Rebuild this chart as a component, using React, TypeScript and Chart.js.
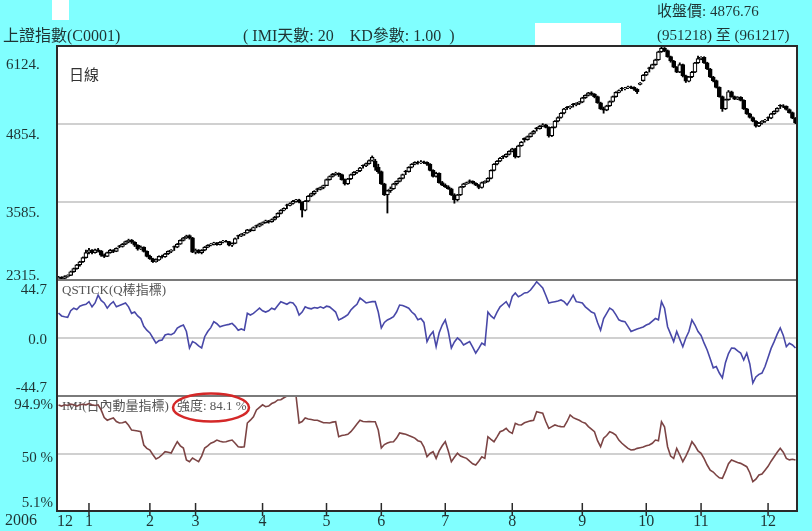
import { useEffect, useRef } from "react";
import { Chart, registerables } from "chart.js";

Chart.register(...registerables);

// ---------- price candles (上證指數, daily) ----------
const opens = [
  2330,2360,2340,2372,2390,2450,2500,2560,2610,2680,
  2770,2800,2760,2805,2790,2720,2700,2760,2800,2780,
  2870,2860,2900,2940,2965,2930,2880,2820,2850,2780,
  2700,2660,2612,2640,2700,2690,2740,2780,2860,2850,
  2900,2960,3000,3040,3000,2770,2800,2760,2800,2850,
  2880,2900,2920,2890,2930,2950,2940,2880,2910,3040,
  3030,3060,3080,3130,3120,3200,3190,3230,3250,3280,
  3260,3300,3340,3400,3450,3540,3530,3560,3600,3620,
  3580,3450,3600,3680,3720,3800,3790,3820,3850,3950,
  4000,4040,4050,4030,3950,3880,3960,4030,4070,4090,
  4180,4170,4210,4260,4250,4150,4080,3880,3700,3770,
  3800,3880,3920,3970,4090,4080,4150,4200,4230,4220,
  4240,4230,4200,4100,4000,4050,3900,3860,3830,3800,
  3700,3620,3700,3830,3880,3930,3920,3890,3860,3820,
  3900,3920,3970,4100,4200,4250,4330,4320,4360,4410,
  4450,4320,4500,4620,4600,4650,4700,4790,4780,4820,
  4840,4800,4660,4800,4900,4960,5030,5130,5120,5180,
  5170,5190,5210,5280,5320,5360,5340,5300,5200,5100,
  5080,5150,5220,5300,5370,5440,5430,5440,5460,5450,
  5420,5500,5560,5650,5770,5760,5820,5900,6030,6090,
  6050,5950,5880,5780,5700,5820,5640,5550,5620,5700,
  5850,5920,5940,5850,5750,5620,5560,5450,5300,5100,
  5250,5380,5300,5260,5290,5240,5100,5020,4960,4900,
  4820,4870,4900,4960,4950,5020,5060,5160,5150,5140,
  5090,5040,4950,
];
const highs = [
  2375,2370,2385,2400,2460,2510,2570,2620,2690,2800,
  2830,2810,2820,2830,2795,2740,2770,2815,2810,2840,
  2880,2910,2950,2980,2975,2940,2890,2870,2855,2790,
  2720,2670,2660,2710,2720,2750,2790,2810,2870,2910,
  2970,3010,3045,3050,3010,2820,2810,2810,2860,2890,
  2910,2930,2925,2940,2960,2960,2945,2920,3000,3045,
  3070,3090,3140,3145,3180,3210,3240,3260,3290,3285,
  3310,3350,3410,3460,3490,3550,3570,3610,3630,3630,
  3590,3610,3690,3730,3770,3810,3830,3860,3960,4010,
  4050,4070,4060,4040,3960,3970,4040,4080,4100,4150,
  4190,4220,4270,4335,4280,4200,4090,3890,3780,3830,
  3890,3930,3980,4040,4100,4160,4210,4240,4250,4260,
  4250,4240,4210,4110,4070,4060,3920,3880,3850,3810,
  3720,3710,3840,3890,3910,3945,3930,3900,3870,3910,
  3930,3980,4110,4210,4260,4310,4340,4370,4420,4460,
  4460,4510,4570,4630,4660,4710,4750,4800,4830,4860,
  4850,4810,4810,4910,4970,5040,5110,5140,5150,5190,
  5200,5220,5290,5330,5370,5380,5350,5310,5210,5130,
  5160,5230,5310,5380,5410,5450,5450,5470,5470,5460,
  5430,5530,5660,5710,5780,5830,5910,6040,6124,6100,
  6060,5960,5890,5790,5850,5830,5650,5630,5710,5860,
  5960,5950,5950,5860,5760,5630,5570,5460,5310,5260,
  5400,5390,5310,5300,5300,5250,5110,5030,4970,4910,
  4880,4910,4930,4970,5030,5070,5120,5170,5170,5150,
  5100,5050,4960,
];
const lows = [
  2315,2325,2335,2360,2385,2440,2490,2540,2600,2670,
  2740,2740,2750,2770,2700,2680,2695,2750,2760,2775,
  2840,2850,2890,2920,2910,2860,2800,2810,2770,2690,
  2650,2600,2605,2635,2670,2685,2730,2760,2795,2840,
  2895,2950,2990,2980,2760,2740,2750,2740,2790,2840,
  2870,2885,2880,2885,2920,2930,2870,2860,2905,2985,
  3020,3040,3075,3100,3115,3165,3180,3210,3240,3240,
  3255,3290,3335,3390,3440,3475,3520,3550,3580,3570,
  3340,3440,3590,3670,3700,3755,3780,3800,3850,3940,
  3990,4020,4000,3940,3860,3870,3950,4020,4050,4080,
  4135,4160,4200,4250,4100,4050,3870,3690,3405,3740,
  3790,3860,3910,3960,4030,4070,4140,4190,4200,4210,
  4210,4180,4090,3990,3990,3890,3850,3820,3790,3690,
  3565,3600,3690,3820,3870,3890,3880,3850,3800,3810,
  3890,3910,3960,4090,4190,4240,4290,4310,4350,4400,
  4300,4310,4490,4560,4590,4640,4690,4740,4770,4810,
  4790,4640,4650,4790,4890,4950,5020,5090,5100,5130,
  5150,5170,5200,5270,5310,5320,5280,5190,5090,5030,
  5070,5140,5210,5290,5360,5395,5410,5430,5430,5400,
  5350,5490,5550,5640,5700,5750,5810,5890,6020,6030,
  5940,5860,5770,5690,5690,5620,5530,5540,5610,5690,
  5840,5900,5840,5740,5610,5540,5440,5290,5060,5090,
  5240,5290,5250,5250,5230,5090,5010,4950,4890,4803,
  4810,4850,4880,4910,4940,5010,5050,5105,5120,5080,
  5030,4940,4860,
];
const closes = [
  2360,2340,2372,2390,2450,2500,2560,2610,2680,2760,
  2800,2760,2805,2790,2720,2700,2760,2800,2780,2830,
  2860,2900,2940,2960,2930,2880,2820,2850,2780,2700,
  2660,2612,2640,2700,2690,2740,2780,2800,2850,2900,
  2960,3000,3030,3000,2770,2800,2760,2800,2850,2880,
  2900,2920,2890,2930,2950,2940,2880,2910,2990,3030,
  3060,3080,3130,3120,3170,3190,3230,3250,3280,3260,
  3300,3340,3400,3450,3480,3530,3560,3600,3620,3580,
  3450,3600,3680,3720,3760,3790,3820,3850,3950,4000,
  4040,4050,4030,3950,3880,3960,4030,4070,4090,4140,
  4170,4210,4260,4310,4150,4080,3880,3700,3770,3800,
  3880,3920,3970,4030,4080,4150,4200,4230,4220,4240,
  4230,4200,4100,4000,4050,3900,3860,3830,3800,3700,
  3620,3700,3830,3880,3900,3920,3890,3860,3820,3900,
  3920,3970,4100,4200,4250,4300,4320,4360,4410,4450,
  4320,4500,4560,4600,4650,4700,4740,4780,4820,4840,
  4800,4660,4800,4900,4960,5030,5100,5120,5140,5170,
  5190,5210,5280,5320,5360,5340,5300,5200,5100,5080,
  5150,5220,5300,5370,5400,5430,5440,5460,5450,5420,
  5380,5520,5650,5700,5760,5820,5900,6030,6090,6050,
  5950,5880,5780,5700,5820,5640,5550,5620,5700,5850,
  5920,5940,5850,5750,5620,5560,5450,5300,5100,5250,
  5380,5300,5260,5290,5240,5100,5020,4960,4900,4820,
  4870,4900,4920,4950,5020,5060,5110,5150,5140,5090,
  5040,4950,4876.76,
];

// ---------- QSTICK (Q棒指標) ----------
const qstick = [
  19.3,17,16.4,16,21,23,22,24.5,25.4,26,
  28,24,27,33,29,27,23,26,28,24,
  25,26,27,24,19,20,17,15,9,6,
  3.9,0,-3.9,-2,-1.5,2.3,3,2.5,3.9,7.7,
  9,10,5,-7.7,-2.8,-3.9,-6,-7.7,1,5,
  8,12.6,11,8.7,9.5,10,10.5,11.3,9,6,
  7,6,19,17.7,19,21,23,21,20,21,
  23,22,25,28,27,26,27.5,27,24,17.7,
  20,24,23,22.5,23.5,23,24,23,24.5,24,
  22,20,13.9,15,16.4,18,21.6,24,26,30.8,
  29,27,27.5,28,28,20,7.7,12,13.9,15,
  16.4,20,25.4,25,24,23,20,18,14,15,
  12,-2.8,2,5,-6.7,4,10,14,5,-7.7,
  -3,0,-2,-5.4,-4,-2.8,-7,-11.6,-8,-3.9,
  -5.4,20,17,15,20,24,26,28,24,32,
  34.7,31.8,33,34.7,35,37,40,43.4,41,38.5,
  33,27,27.5,28,28.5,29.3,28,25.4,29,33,
  28,27.5,27,24,22,20,19,12,6,15,
  19,23,21.6,18,14,13,12.6,9,5,6,
  7,7.7,8.5,10,11,13,15,14,28,23,
  8.7,3,-2.8,5,-1,-6.7,0,5,14,10,
  5,2,-4,-9.2,-16,-23,-22,-27,-30.8,-19,
  -12,-7.7,-8,-10,-11.6,-17,-11.6,-20,-34.7,-30,
  -28,-27,-22,-15,-8,-2.8,3,7.7,2,-6.7,
  -4,-5.4,-7.7,
];

// ---------- IMI (日內動量指標, %) ----------
const imi = [
  87.9,87,88,87.5,88.5,88,87,88,88.5,88,
  89,88,87.5,88,84,78,76,77,77.7,75,
  73.8,74,74.8,72,68.3,68,67.5,67,56.6,54,
  52.7,49,45.7,47,49,51.4,51,50.4,55,59.2,
  56,54.3,45,43.6,46.5,45,43.6,48,54.3,56,
  58,59,60.5,59.5,59,59.2,60,60.5,58,55.3,
  55,55.3,73.8,76,78.7,84,86,88,86.5,87,
  89,90,91.8,92,93.5,94.9,94.9,94.9,94.9,73.8,
  75,77.7,77,76.5,76,76,75,74,74,73.8,
  74.5,74.8,63.1,64,64.4,65,67,70,73,76,
  75,74.8,75,74.8,74.8,68.3,54.3,57,58.2,59,
  59.2,62,66,65.5,65,64,63.1,62,60,59.2,
  55,47.5,50,51.4,46.2,52,56,59.2,52,43.6,
  47,50.2,48,47,46.2,44,42,41,44,47.5,
  46.2,63.1,61,59.2,63,67,68,69.6,67,65.7,
  73.6,72.5,72.3,74,74.8,75.5,76,82.6,82,81.4,
  75,69.6,71,72.3,71.5,71,70.9,75,80.1,78,
  77,76,74.5,73.6,71,69,67,60,55.3,61.9,
  64,67,66,64.4,60.5,58,56,54,52.7,53,
  54,54.5,55,56,56.6,58,60.5,60,74.8,70.9,
  55.3,48,46.2,54,49,43.6,48,53,59.2,56,
  52,50.2,46,41,37,35.5,33,31,30.6,36,
  42,44.9,44,43,42.3,41,39.7,35,28,30,
  33.2,34,37,40,44,47.5,51,54,51,46.2,
  45,45.5,44.9,
];

// ---------- axes / labels ----------
const monthStarts = [0, 10, 30, 45, 67, 88, 106, 127, 149, 172, 193, 211, 233];
const monthLabels = ["12", "1", "2", "3", "4", "5", "6", "7", "8", "9", "10", "11", "12"];
const yearLabel = "2006";
const priceTicks = [6124, 4854, 3585, 2315];
const priceTickLabels = ["6124.", "4854.", "3585.", "2315."];
const priceGrid = [4854, 3585];
const qstickTicks = [44.7, 0, -44.7];
const qstickTickLabels = ["44.7", "0.0", "-44.7"];
const imiTicks = [94.9, 50, 5.1];
const imiTickLabels = ["94.9%", "50 %", "5.1%"];

const FONT = '"Liberation Serif", "Noto Sans CJK TC", serif';
const TXT = "#1f3434";

const clamp = (v: number, lo: number, hi: number) => Math.max(lo, Math.min(hi, v));

function txt(ctx: CanvasRenderingContext2D, s: string, x: number, y: number, size: number, color: string, align: CanvasTextAlign = "left") {
  ctx.font = `${size}px ${FONT}`;
  ctx.fillStyle = color;
  ctx.textAlign = align;
  ctx.textBaseline = "middle";
  ctx.fillText(s, x, y);
}

const framePlugin = {
  id: "frame",
  beforeDraw(chart: any) {
    const { ctx, chartArea: a, width, height } = chart;
    ctx.save();
    ctx.fillStyle = "#80ffff";
    ctx.fillRect(0, 0, width, height);
    ctx.fillStyle = "#ffffff";
    ctx.fillRect(a.left, a.top, a.right - a.left, a.bottom - a.top);
    // white patches in the header
    ctx.fillRect(52, 0, 17, 20);
    ctx.fillRect(535, 23, 86, 22);
    ctx.restore();
  },
  beforeDatasetsDraw(chart: any) {
    const { ctx } = chart;
    const yP = chart.scales.yP, yQ = chart.scales.yQ, yM = chart.scales.yM;
    ctx.save();
    txt(ctx, "日線", 69, yP.top + 30, 15, "#333");
    txt(ctx, "QSTICK(Q棒指標)", 62, yQ.top + 11, 13, "#555");
    txt(ctx, "IMI(日內動量指標)", 62, yM.top + 11, 13, "#555");
    txt(ctx, "強度: 84.1 %", 177, yM.top + 11, 13, "#555");
    ctx.restore();
  },
  afterDraw(chart: any) {
    const { ctx, chartArea: a } = chart;
    const xs = chart.scales.x, yP = chart.scales.yP, yQ = chart.scales.yQ, yM = chart.scales.yM;
    ctx.save();
    // panel separators
    ctx.strokeStyle = "#7a7a7a";
    ctx.lineWidth = 2;
    [yQ.top, yM.top].forEach((y: number) => {
      ctx.beginPath();
      ctx.moveTo(a.left, y);
      ctx.lineTo(a.right, y);
      ctx.stroke();
    });
    // frame
    ctx.strokeStyle = "#2a2a2a";
    ctx.lineWidth = 2;
    ctx.strokeRect(a.left, a.top, a.right - a.left, a.bottom - a.top);

    // left axis labels
    priceTicks.forEach((v, i) => {
      const y = clamp(yP.getPixelForValue(v) + 11, yP.top + 19, yP.bottom - 4);
      txt(ctx, priceTickLabels[i], 6, y, 15, TXT);
    });
    qstickTicks.forEach((v, i) => {
      const y = clamp(yQ.getPixelForValue(v) + 2, yQ.top + 10, yQ.bottom - 8);
      txt(ctx, qstickTickLabels[i], 47, y, 15, TXT, "right");
    });
    imiTicks.forEach((v, i) => {
      const y = clamp(yM.getPixelForValue(v) + 5, yM.top + 9, yM.bottom - 8);
      txt(ctx, imiTickLabels[i], 53, y, 15, TXT, "right");
    });

    // month ticks
    ctx.strokeStyle = "#2a2a2a";
    ctx.lineWidth = 1.5;
    monthStarts.forEach((idx, k) => {
      const x = xs.getPixelForValue(idx);
      if (k > 0) {
        ctx.beginPath();
        ctx.moveTo(x, a.bottom - 8);
        ctx.lineTo(x, a.bottom + 5);
        ctx.stroke();
      }
      txt(ctx, monthLabels[k], Math.max(x, a.left + 8), a.bottom + 11, 16, TXT, "center");
    });
    txt(ctx, yearLabel, 5, a.bottom + 10, 16, TXT);

    // header
    txt(ctx, "上證指數(C0001)", 3, 37, 16, TXT);
    txt(ctx, "( IMI天數: 20    KD參數: 1.00  )", 243, 37, 16, TXT);
    txt(ctx, "收盤價: 4876.76", 657, 12, 15, TXT);
    txt(ctx, "(951218) 至 (961217)", 657, 36, 15, TXT);

    // red ellipse around strength
    ctx.strokeStyle = "#d42828";
    ctx.lineWidth = 2.5;
    ctx.beginPath();
    ctx.ellipse(211, yM.top + 11.5, 38, 14, 0, 0, Math.PI * 2);
    ctx.stroke();
    ctx.restore();
  },
};

export default function App() {
  const ref = useRef<HTMLCanvasElement>(null);
  useEffect(() => {
    const canvas = ref.current;
    if (!canvas) return;
    const labels = closes.map((_, i) => String(i));
    const bodies = opens.map((o, i) => [o, closes[i]]);
    const wicks = lows.map((l, i) => [l, highs[i]]);
    const bodyColors = opens.map((o, i) => (closes[i] >= o ? "#ffffff" : "#000000"));
    const hidden = {
      grid: { display: false },
      ticks: { display: false },
      border: { display: false },
    };
    const chart = new Chart(canvas, {
      type: "bar",
      data: {
        labels,
        datasets: [
          {
            type: "bar",
            label: "body",
            data: bodies as any,
            yAxisID: "yP",
            backgroundColor: bodyColors,
            borderColor: "#000000",
            borderWidth: 1.2,
            borderSkipped: false,
            barThickness: 4,
            grouped: false,
            order: 0,
          } as any,
          {
            type: "bar",
            label: "wick",
            data: wicks as any,
            yAxisID: "yP",
            backgroundColor: "#000000",
            borderWidth: 0,
            barThickness: 1.2,
            grouped: false,
            order: 1,
          } as any,
          {
            type: "line",
            label: "QSTICK",
            data: qstick,
            yAxisID: "yQ",
            borderColor: "#4848a8",
            borderWidth: 1.6,
            pointRadius: 0,
            tension: 0,
            order: 0,
          } as any,
          {
            type: "line",
            label: "IMI",
            data: imi,
            yAxisID: "yM",
            borderColor: "#7c4444",
            borderWidth: 1.6,
            pointRadius: 0,
            tension: 0,
            order: 0,
          } as any,
        ],
      },
      options: {
        animation: false,
        responsive: false,
        devicePixelRatio: 1,
        layout: { padding: { left: 57, right: 15, top: 46, bottom: 20 } },
        plugins: { legend: { display: false }, tooltip: { enabled: false }, title: { display: false } },
        scales: {
          x: {
            type: "category",
            offset: true,
            ...hidden,
            afterFit: (s: any) => { s.height = 0; },
          },
          yM: {
            type: "linear",
            position: "left",
            stack: "panels",
            stackWeight: 115,
            min: 5.1,
            max: 94.9,
            grid: { color: "#d0d0d0", lineWidth: 2, drawTicks: false },
            ticks: { display: false },
            border: { display: false },
            afterBuildTicks: (s: any) => { s.ticks = [{ value: 50 }]; },
            afterFit: (s: any) => { s.width = 0; },
          },
          yQ: {
            type: "linear",
            position: "left",
            stack: "panels",
            stackWeight: 116,
            min: -44.7,
            max: 44.7,
            grid: { color: "#d0d0d0", lineWidth: 2, drawTicks: false },
            ticks: { display: false },
            border: { display: false },
            afterBuildTicks: (s: any) => { s.ticks = [{ value: 0 }]; },
            afterFit: (s: any) => { s.width = 0; },
          },
          yP: {
            type: "linear",
            position: "left",
            stack: "panels",
            stackWeight: 234,
            min: 2315,
            max: 6124,
            grid: { color: "#d0d0d0", lineWidth: 2, drawTicks: false },
            ticks: { display: false },
            border: { display: false },
            afterBuildTicks: (s: any) => { s.ticks = priceGrid.map((v) => ({ value: v })); },
            afterFit: (s: any) => { s.width = 0; },
          },
        },
      } as any,
      plugins: [framePlugin as any],
    });
    return () => chart.destroy();
  }, []);

  return (
    <div style={{ position: "fixed", left: 0, top: 0, width: 812, height: 531, background: "#80ffff" }}>
      <canvas ref={ref} width={812} height={531} style={{ display: "block", width: 812, height: 531 }} />
    </div>
  );
}
